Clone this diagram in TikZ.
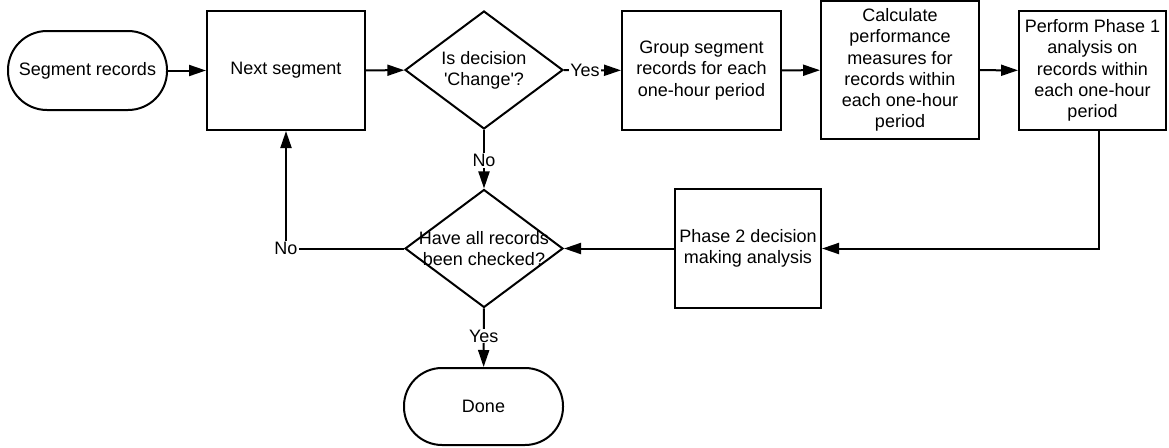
\documentclass[tikz,border=0pt]{standalone}
\usepackage{fontspec}
\setmainfont{Liberation Sans}
\usetikzlibrary{shapes.geometric,arrows.meta}
\tikzset{
  box/.style={draw,line width=2pt,minimum width=158pt,minimum height=119pt,align=center,inner sep=2pt},
  term/.style={draw,line width=2pt,rounded corners=39pt,minimum width=159pt,minimum height=79pt},
  decision/.style={draw,line width=2pt,diamond,minimum width=158pt,minimum height=118pt,inner sep=0pt},
  dtext/.style={align=center,inner sep=0pt},
  lbl/.style={fill=white,inner sep=1pt},
  arr/.style={line width=2pt,-{Triangle[length=17pt,width=11pt]}},
}
\begin{document}
\begin{tikzpicture}[x=1pt,y=-1pt,font=\fontsize{18}{21.2}\selectfont]
  \useasboundingbox (0,0) rectangle (1169,447);
  % top row
  \node[term] (seg) at (87.5,70.5) {Segment records};
  \node[box] (next) at (286,70.5) {Next segment};
  \node[decision] (chg) at (484,70) {};
  \node[dtext] (chgtxt) at (chg) {Is decision\\\textquotesingle Change\textquotesingle?};
  \node[box,minimum width=159pt] (grp) at (701.5,70.5) {Group segment\\records for each\\one-hour period};
  \node[box,minimum height=138pt] (calc) at (900,70) {Calculate\\performance\\measures for\\records within\\each one-hour\\period};
  \node[box,minimum width=147pt] (perf) at (1092.5,70.5) {Perform Phase 1\\analysis on\\records within\\each one-hour\\period};
  % bottom row
  \node[box,minimum width=146pt] (ph2) at (748,248.5) {Phase 2 decision\\making analysis};
  \node[decision] (chk) at (484,248.5) {};
  \node[dtext] (chktxt) at (chk) {Have all records\\been checked?};
  \node[lbl] (noleft) at (286,248.5) {No};
  \node[term,minimum height=77pt,rounded corners=38pt] (done) at (483.5,406.5) {Done};
  % connectors
  \draw[arr] (seg) -- (next);
  \draw[arr] (next) -- (chg);
  \draw[arr] (chg) -- node[lbl,pos=0.37]{Yes} (grp);
  \draw[arr] (grp) -- (calc);
  \draw[arr] (calc) -- (perf);
  \draw[arr] ([xshift=6pt]perf.south) |- (ph2);
  \draw[arr] (ph2) -- (chk);
  \draw[arr] (chg) -- node[lbl,pos=0.52]{No} (chk);
  \draw[arr] (chk) -- (noleft) -- (next);
  \draw[arr] (chk) -- node[lbl,pos=0.47]{Yes} (done);
\end{tikzpicture}
\end{document}
